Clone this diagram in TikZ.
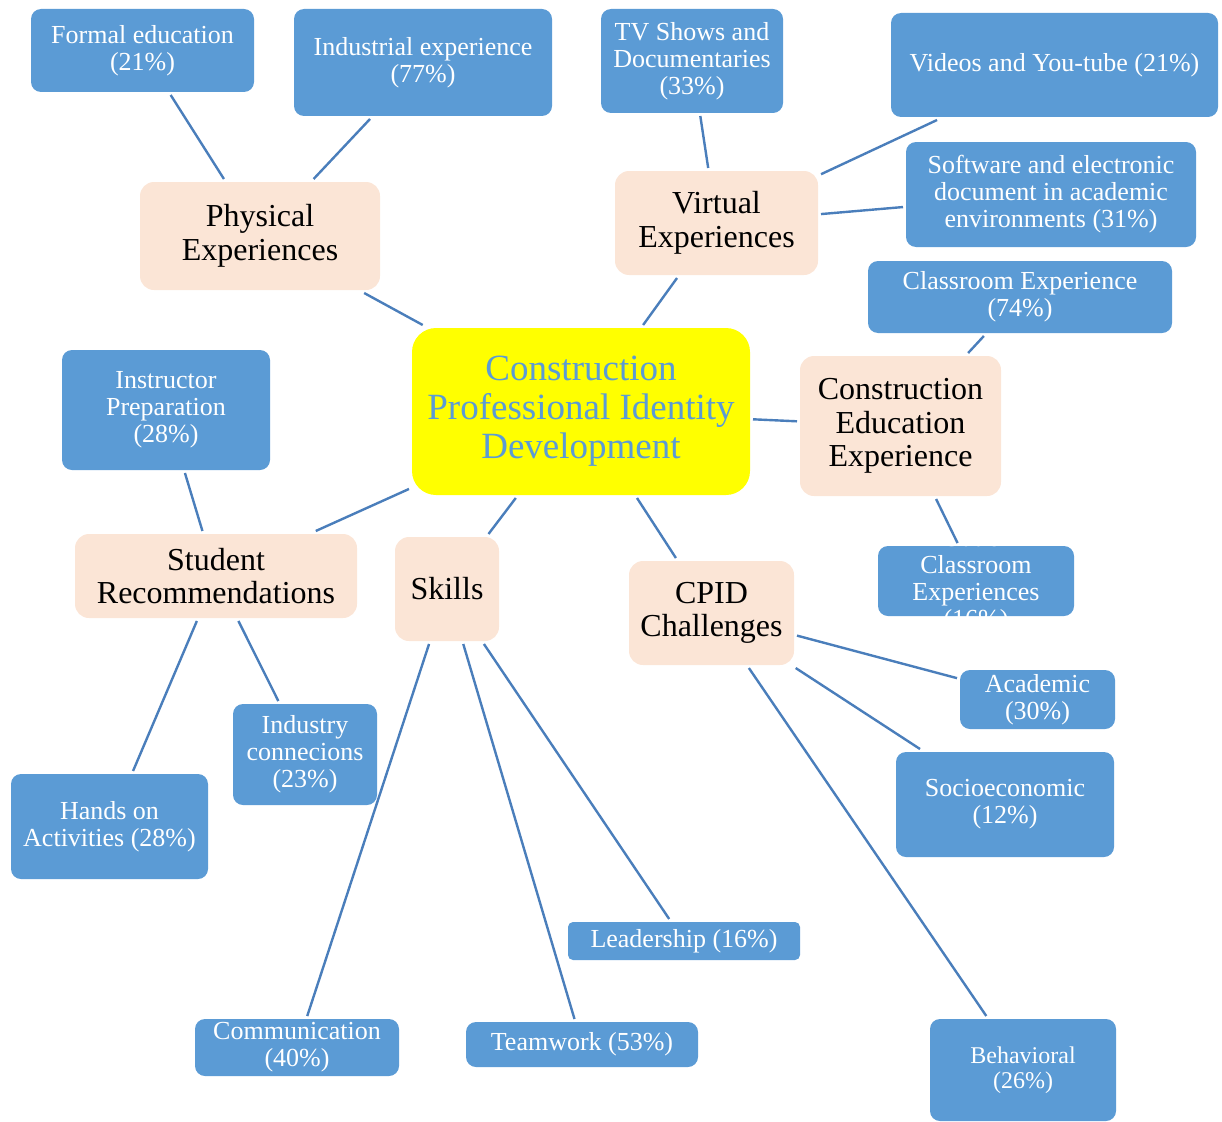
\documentclass[tikz,border=0pt]{standalone}
\usepackage{fontspec}
\setmainfont{Liberation Serif}

\definecolor{boxBlue}{HTML}{5B9BD5}
\definecolor{linkBlue}{HTML}{4A7EBB}
\definecolor{peach}{HTML}{FBE5D6}
\definecolor{hubYellow}{RGB}{255,255,0}

\tikzset{
  hub/.style={rounded corners=24pt, fill=hubYellow, text=boxBlue, align=center,
    inner sep=0pt, outer sep=3pt, font=\fontsize{37}{39}\selectfont},
  theme/.style={rounded corners=14pt, fill=peach, text=black, align=center,
    inner sep=0pt, outer sep=3pt, font=\fontsize{32}{33.5}\selectfont},
  leaf/.style={rounded corners=10pt, fill=boxBlue, text=white, align=center,
    inner sep=0pt, outer sep=3pt, font=\fontsize{26}{27}\selectfont},
  box/.style 2 args={minimum width=#1pt, minimum height=#2pt},
  link/.style={draw=linkBlue, line width=2.4pt}
}

\begin{document}
\begin{tikzpicture}[x=1pt, y=-1pt]
    % Fix the page size
    \useasboundingbox (0,0) rectangle (1222,1121);

    % Draw the central topic
    \node[hub, box={338}{167}] (cpid) at (581,411.5) {Construction\\Professional Identity\\Development};

    % Draw the themes
    \node[theme, box={240}{108}] (physical) at (260,236) {Physical\\Experiences};
    \node[theme, box={203}{104}] (virtual) at (716.5,223) {Virtual\\Experiences};
    \node[theme, box={201}{140}] (education) at (900.5,426) {Construction\\Education\\Experience};
    \node[theme, box={282}{84}] (recommend) at (216,576) {Student\\Recommendations};
    \node[theme, box={104}{104}] (skills) at (447,589) {Skills};
    \node[theme, box={165}{104}] (challenges) at (711.5,613) {CPID\\Challenges};

    % Draw the physical and virtual experiences
    \node[leaf, box={223}{83}] (formal) at (142.5,50.5) {Formal education\\(21\%)};
    \node[leaf, box={258}{107}] (industrial) at (423,62.5) {Industrial experience\\(77\%)};
    \node[leaf, box={182}{104}] (tvshows) at (692,61) {TV Shows and\\Documentaries\\(33\%)};
    \node[leaf, box={327}{104}] (videos) at (1054.5,65) {Videos and You-tube (21\%)};
    \node[leaf, box={290}{105}] (software) at (1051,194.5) {Software and electronic\\document in academic\\environments (31\%)};

    % Draw the education experiences (the text overflows its box)
    \node[leaf, box={304}{72}] (classroom) at (1020,297) {Classroom Experience\\(74\%)};
    \node[leaf, box={196}{70}] (outclass) at (976,581) {};
    \node[text=white, align=center, inner sep=0pt, font=\fontsize{26}{27}\selectfont] (outtext) at (outclass) {Out of\\Classroom\\Experiences\\(16\%)};

    % Draw the student recommendations
    \node[leaf, box={208}{120}] (instructor) at (166,410) {Instructor\\Preparation\\(28\%)};
    \node[leaf, box={197}{105}] (handson) at (109.5,826.5) {Hands on\\Activities (28\%)};
    \node[leaf, box={144}{101}] (industry) at (305,754.5) {Industry\\connecions\\(23\%)};

    % Draw the skills
    \node[leaf, box={204}{57}] (communication) at (297,1047.5) {Communication\\(40\%)};
    \node[leaf, box={232}{45}] (teamwork) at (582,1044.5) {Teamwork (53\%)};
    \node[leaf, box={232}{38}, rounded corners=5pt] (leadership) at (684,941) {Leadership (16\%)};

    % Draw the challenges
    \node[leaf, box={155}{59}] (academic) at (1037.5,699.5) {Academic\\(30\%)};
    \node[leaf, box={218}{105}] (socio) at (1005,804.5) {Socioeconomic\\(12\%)};
    \node[leaf, box={186}{102}, font=\fontsize{24}{25}\selectfont] (behavioral) at (1023,1070) {Behavioral\\(26\%)};

    % Connect the central topic to the themes
    \foreach \t in {physical, virtual, education, recommend, skills, challenges}
        \draw[link] (cpid) -- (\t);

    % Connect the themes to their items
    \draw[link] (physical) -- (formal);
    \draw[link] (physical) -- (industrial);
    \draw[link] (virtual) -- (tvshows);
    \draw[link] (virtual) -- (videos);
    \draw[link] (virtual) -- (software);
    \draw[link] (education) -- (classroom);
    \draw[link] (education) -- (outclass);
    \draw[link] (recommend) -- (instructor);
    \draw[link] (recommend) -- (handson);
    \draw[link] (recommend) -- (industry);
    \foreach \s in {communication, teamwork, leadership}
        \draw[link] (skills) -- (\s);
    \foreach \c in {academic, socio, behavioral}
        \draw[link] (challenges) -- (\c);

\end{tikzpicture}
\end{document}
